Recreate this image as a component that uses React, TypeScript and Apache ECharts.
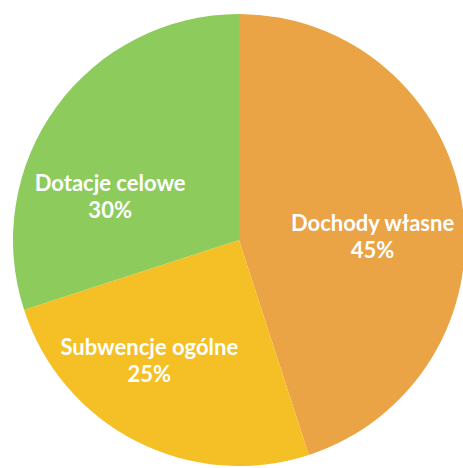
import React, { useEffect, useRef } from "react";
import * as echarts from "echarts";

const categories = ["Dochody własne", "Subwencje ogólne", "Dotacje celowe"];
const values = [45, 25, 30];
const colors = ["#EAA345", "#F4C025", "#8DCB5D"];
const labelOffsets = [
  [19, 14],
  [-37, 17],
  [-35, 24],
];

export default function App() {
  const ref = useRef<HTMLDivElement>(null);
  useEffect(() => {
    document.body.style.margin = "0";
    const chart = echarts.init(ref.current!, null, { renderer: "svg" });
    chart.setOption({
      animation: false,
      backgroundColor: "#ffffff",
      series: [
        {
          type: "pie",
          center: [239, 240],
          radius: 226,
          startAngle: 90,
          clockwise: true,
          silent: true,
          itemStyle: { borderWidth: 0 },
          label: {
            show: true,
            position: "inside",
            color: "#ffffff",
            fontFamily: "Lato",
            fontWeight: "bold",
            fontSize: 22,
            lineHeight: 27,
            formatter: (p: any) => `${p.name}\n${p.value}%`,
          },
          labelLine: { show: false },
          data: categories.map((name, i) => ({
            name,
            value: values[i],
            itemStyle: { color: colors[i] },
            label: { offset: labelOffsets[i] },
          })),
        },
      ],
    });
    return () => chart.dispose();
  }, []);
  return <div ref={ref} style={{ width: 463, height: 468 }} />;
}
